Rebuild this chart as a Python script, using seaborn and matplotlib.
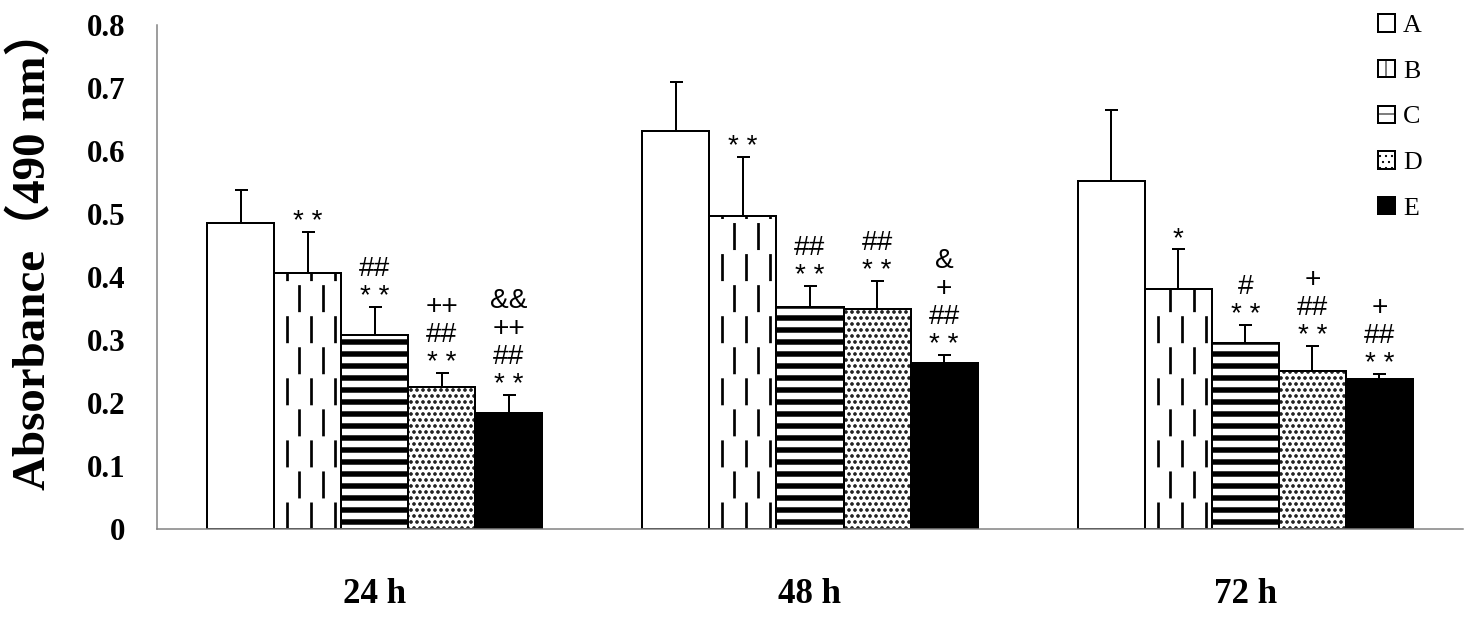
import matplotlib
matplotlib.use("Agg")
import matplotlib.pyplot as plt
import matplotlib.patches as mpatches
import numpy as np
import pandas as pd
import seaborn as sns

# values
times = ["24 h", "48 h", "72 h"]
groups = ["A", "B", "C", "D", "E"]
mean_a = [0.486, 0.632, 0.552]
mean_b = [0.406, 0.497, 0.381]
mean_c = [0.308, 0.352, 0.295]
mean_d = [0.225, 0.349, 0.251]
mean_e = [0.184, 0.263, 0.238]
sd_a = [0.052, 0.078, 0.113]
sd_b = [0.065, 0.093, 0.063]
sd_c = [0.044, 0.034, 0.029]
sd_d = [0.023, 0.045, 0.039]
sd_e = [0.029, 0.013, 0.008]
marks_a = ["", "", ""]
marks_b = ["**", "**", "*"]
marks_c = ["##\n**", "##\n**", "#\n**"]
marks_d = ["++\n##\n**", "##\n**", "+\n##\n**"]
marks_e = ["&&\n++\n##\n**", "&\n+\n##\n**", "+\n##\n**"]

means = [mean_a, mean_b, mean_c, mean_d, mean_e]
sds = [sd_a, sd_b, sd_c, sd_d, sd_e]
marks = [marks_a, marks_b, marks_c, marks_d, marks_e]

rows = []
for g, m in zip(groups, means):
    for t, v in zip(times, m):
        rows.append({"time": t, "group": g, "absorbance": v})
df = pd.DataFrame(rows)

sns.set_style("white")
plt.rcParams.update({"text.color": "black", "axes.labelcolor": "black",
                     "xtick.color": "black", "ytick.color": "black"})
DPI = 72
fig = plt.figure(figsize=(1469 / DPI, 620 / DPI), dpi=DPI)
ax = fig.add_axes([157 / 1469, 91 / 620, 1306 / 1469, 504 / 620])

face = ["white", "white", "white", "white", "black"]
sns.barplot(data=df, x="time", y="absorbance", hue="group", palette=face,
            saturation=1, edgecolor="black", linewidth=2, width=0.77, gap=0,
            errorbar=None, legend=False, ax=ax)
ax.set_xlim(-0.5, 2.5)
ax.set_ylim(0, 0.8)
bars = list(ax.containers)

hatches = [None, None, "-", "..", None]
hatch_lw = [1, 1, 5.5, 2.3, 1]
for i, cont in enumerate(bars):
    for p in cont.patches:
        if hatches[i]:
            p.set_hatch(hatches[i])
            if hasattr(p, "set_hatch_linewidth"):
                p.set_hatch_linewidth(hatch_lw[i])

# dashed vertical fill for group B
px = ax.transData.transform((1, 0))[0] - ax.transData.transform((0, 0))[0]
for p in bars[1].patches:
    xs = np.arange(p.get_x() + 13 / px, p.get_x() + p.get_width() - 3 / px, 12 / px)
    styles = [(0, (10, 13)) if k % 2 == 0 else (11.5, (10, 13)) for k in range(len(xs))]
    ax.vlines(xs, 0, p.get_height(), colors="black", linewidth=2.7,
              linestyles=styles, zorder=p.get_zorder() + 0.1)

# error bars (upper only) and significance marks
for i, cont in enumerate(bars):
    xc = [p.get_x() + p.get_width() / 2 for p in cont.patches]
    m = np.array(means[i])
    s = np.array(sds[i])
    eb = ax.errorbar(xc, m, yerr=[np.zeros_like(s), s], fmt="none", ecolor="black",
                     elinewidth=2, capsize=6.5, capthick=2, zorder=5)
    for cl in eb[1]:
        if np.allclose(cl.get_ydata(), m):
            cl.set_visible(False)
    for x, top, txt in zip(xc, m + s, marks[i]):
        if txt:
            ax.annotate(txt.replace("**", "* *"), xy=(x, top), xytext=(0, 3),
                        textcoords="offset points", ha="center", va="baseline",
                        fontsize=28, linespacing=1.1, family="Liberation Sans")

# axes styling
sns.despine(ax=ax)
for side in ["left", "bottom"]:
    ax.spines[side].set_color("#808080")
    ax.spines[side].set_linewidth(1.5)
ax.set_yticks(np.arange(0, 0.81, 0.1))
ax.set_yticklabels(["0"] + [f"{v:.1f}" for v in np.arange(0.1, 0.81, 0.1)])
ax.tick_params(axis="y", direction="in", length=6, width=1.5, color="#808080",
               labelcolor="black", pad=32, labelsize=31)
ax.set_xticks([0.5, 1.5, 2.5], minor=True)
ax.tick_params(axis="x", which="minor", direction="in", length=11, width=1.5,
               color="#808080")
ax.tick_params(axis="x", which="major", length=0, pad=49, labelsize=35,
               labelcolor="black")
for lab in ax.get_yticklabels() + ax.get_xticklabels():
    lab.set_family("Liberation Serif")
    lab.set_fontweight("bold")

ax.set_xlabel("")
ax.set_ylabel("Absorbance（490 nm）", fontsize=47, fontweight="bold", color="black",
              family=["Liberation Serif", "Noto Sans CJK SC"])
ax.yaxis.set_label_coords(-0.078, 0.555)

# legend
handles = []
leg_hatch = [None, "|", "-", "..", None]
for g, fc, h, lw in zip(groups, face, leg_hatch, hatch_lw):
    hp = mpatches.Patch(facecolor=fc, edgecolor="black", linewidth=2, hatch=h, label=g)
    if h and hasattr(hp, "set_hatch_linewidth"):
        hp.set_hatch_linewidth(lw if g != "B" else 2)
    handles.append(hp)
leg = fig.legend(handles=handles, loc="upper left", bbox_to_anchor=(1364 / 1469, 1.0),
                 frameon=False, prop={"family": "Liberation Serif", "size": 26},
                 handlelength=0.65, handleheight=0.65, handletextpad=0.3,
                 labelspacing=0.88, borderaxespad=0.15)

fig.savefig("out.png", dpi=DPI)
